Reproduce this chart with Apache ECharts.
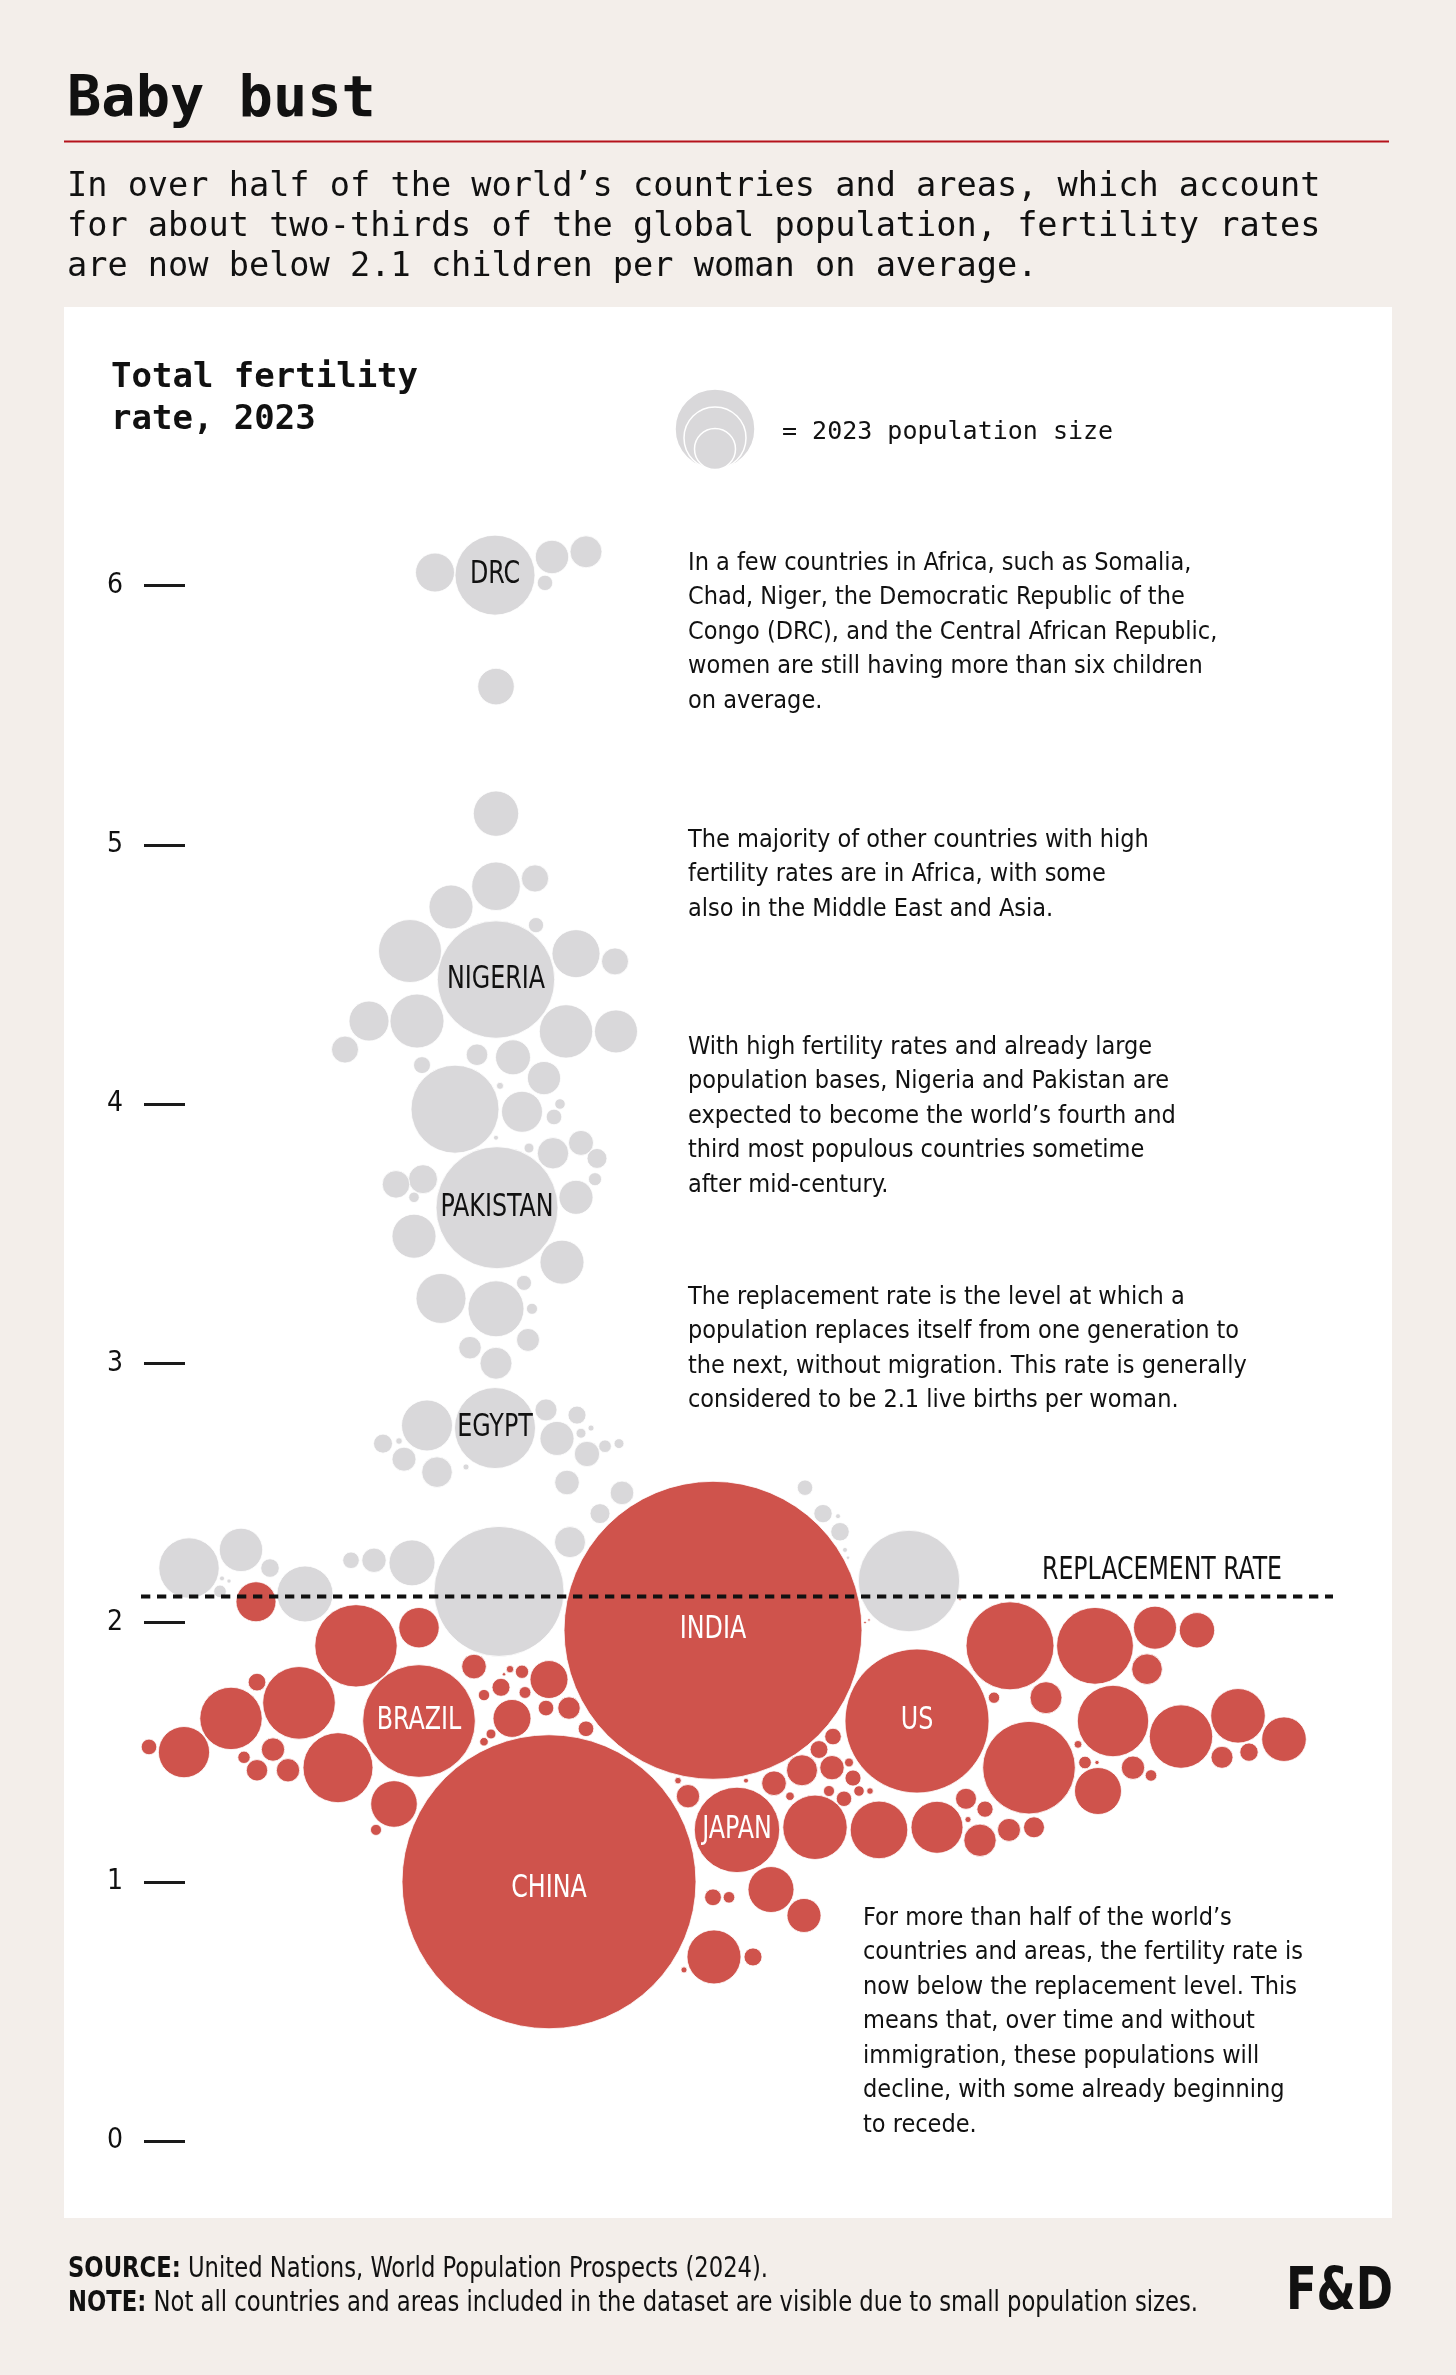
<!DOCTYPE html>
<html><head><meta charset="utf-8">
<script src="https://cdn.jsdelivr.net/npm/echarts@6/dist/echarts.min.js"></script>
<style>html,body{margin:0;padding:0;background:#f3eeea;}#chart{width:1456px;height:2375px;}</style>
</head><body><div id="chart"></div>
<script>
// ---- DATA ----
// Labeled countries come first (in the order of labelNames), then all other countries and areas.
const labelNames = ['DRC','NIGERIA','PAKISTAN','EGYPT','BRAZIL','CHINA','INDIA','US','JAPAN'];
// Total fertility rate, 2023
const fertilityRate = [
 6.04,4.48,3.60,2.75,1.62,1.00,1.97,1.62,1.20,
 // other, above replacement
 6.05,6.11,6.13,6.01,5.61,5.12,4.84,4.87,4.76,4.69,4.59,4.58,4.55,4.32,4.32,4.28,4.28,4.21,4.19,4.18,4.15,4.10,4.07,
 3.98,3.97,4.00,3.95,3.87,3.83,3.81,3.85,3.79,3.71,3.71,3.69,3.64,3.64,3.49,3.39,3.25,3.21,3.31,3.21,3.09,3.06,3.00,
 2.76,2.82,2.71,2.80,2.75,2.73,2.65,2.68,2.69,2.69,2.70,2.63,2.58,2.60,2.54,2.50,2.42,2.31,2.21,2.28,2.21,2.17,2.16,
 2.12,2.11,2.24,2.24,2.23,2.12,2.52,2.42,2.41,2.35,2.28,2.25,2.16,
 // other, below replacement
 2.08,1.91,1.98,1.83,1.82,1.80,1.81,1.78,1.75,1.72,1.73,1.63,1.67,1.67,1.59,1.57,1.54,1.69,1.77,1.63,1.50,1.52,1.51,
 1.48,1.43,1.43,1.44,1.30,1.20,2.09,2.00,2.01,1.33,1.39,1.39,1.38,1.33,1.43,1.51,1.56,1.44,1.46,1.40,1.35,1.32,1.35,
 1.35,1.21,1.20,1.21,1.32,1.28,1.24,1.16,1.20,1.21,1.91,1.71,1.71,1.44,1.53,1.46,1.46,1.91,1.98,1.97,1.82,1.62,1.56,
 1.64,1.55,1.48,1.50,1.44,1.41,1.35,0.97,0.94,0.94,0.87,0.71,0.71,0.66
];
// 2023 population, millions
const populationM = [
 104.4,224.8,242.7,107.0,206.8,1409.6,1448.0,338.2,118.9,
 24.8,18.2,16.7,3.9,21.8,33.6,38.5,12.1,31.6,3.8,64.7,37.6,11.9,26.1,47.6,46.5,30.2,11.9,7.6,20.0,4.7,18.0,0.8,
 126.3,27.4,1.8,4.0,0.4,1.6,16.1,10.2,6.5,2.8,13.7,12.4,1.8,18.9,31.6,31.6,40.8,51.1,3.7,2.0,8.6,8.3,16.7,
 42.4,7.9,18.9,5.3,0.6,1.6,10.5,2.6,1.6,5.9,0.7,9.4,15.3,0.6,9.9,9.1,6.5,15.7,59.5,30.7,5.6,0.4,0.3,
 2.6,51.1,4.5,9.7,34.5,275.6,3.9,5.5,0.4,5.6,0.4,0.2,167.7,
 26.1,110.7,26.6,9.9,0.9,0.2,2.9,23.5,5.3,2.1,2.3,23.5,4.0,8.2,4.0,1.6,1.2,86.0,5.1,63.5,42.8,4.0,8.9,
 2.5,7.5,8.9,79.9,35.4,2.0,0.1,0.1,0.1,8.9,0.7,0.4,9.9,1.2,15.7,5.2,4.5,9.7,1.3,4.2,2.0,3.9,1.8,
 0.7,67.6,54.1,44.1,7.2,4.3,0.6,17.1,8.6,7.2,126.3,2.1,16.7,139.8,1.0,2.6,0.3,96.2,30.2,20.4,15.3,83.1,65.6,
 48.6,32.4,7.9,5.5,8.9,2.2,36.0,34.5,4.6,2.2,18.9,47.6,5.3,0.6
];
// horizontal position in the packed swarm (offset from the centre column)
const swarmX = [
 0,1,2,0,-76,54,218,422,242,
 -60,57,91,50,1,1,1,40,-44,41,-85,81,120,-126,-78,71,121,-150,-18,18,-73,49,5,
 -40,27,65,59,1,34,58,86,102,100,-72,-99,-81,81,-81,67,-54,1,29,37,33,-25,1,
 -68,51,62,82,96,86,92,110,124,-112,-96,-91,-58,-29,72,127,105,75,-306,-254,-225,-273,-266,
 -275,-190,-144,-121,-83,4,310,328,343,345,350,353,414,
 -239,-139,-76,-21,15,9,27,54,6,-11,30,17,51,74,91,-4,-11,-196,-238,-264,-311,-346,-222,
 -251,-238,-207,-157,-101,-119,465,370,374,193,183,251,279,295,307,324,338,337,354,358,334,349,364,
 375,320,384,442,471,490,473,485,514,539,515,499,551,534,583,590,602,600,660,702,652,618,686,
 743,789,727,754,638,656,603,276,218,234,309,219,258,189
];
const replacementRate = 2.1;

// ---- STYLE ----
const RED = '#cf534c', GRAY = '#d9d8da', INK = '#111111';
const MONO = '"DejaVu Sans Mono", "Liberation Mono", monospace';
const COND = '"DejaVu Sans Condensed", "Liberation Sans Narrow", "Roboto", sans-serif';
const SIZE_K = 7.83; // px of diameter per sqrt(million people)

const above = [], below = [];
for (let i = 0; i < fertilityRate.length; i++) {
  const name = i < labelNames.length ? labelNames[i] : '';
  const item = { name, value: [swarmX[i], fertilityRate[i], populationM[i]] };
  (fertilityRate[i] >= replacementRate ? above : below).push(item);
}

const chart = echarts.init(document.getElementById('chart'), null, { renderer: 'canvas' });

function paragraph(id, text, x, yCenterFirst, lh) {
  return { id, type: 'text', z: 5, style: { text, x, y: yCenterFirst - lh / 2, fill: INK,
    fontFamily: COND, fontSize: 25, lineHeight: lh, textAlign: 'left', textVerticalAlign: 'top' } };
}

const option = {
  animation: false,
  backgroundColor: '#f3eeea',
  textStyle: { fontFamily: COND },
  grid: { left: 0, right: 0, top: 2141 - 6 * 259.25, bottom: 234, containLabel: false, outerBoundsMode: 'none' },
  xAxis: { type: 'value', min: -495, max: 961, show: false, axisLine: { onZero: false } },
  yAxis: {
    type: 'value', min: 0, max: 6, interval: 1, position: 'left', offset: -185,
    axisLine: { show: false, onZero: false },
    axisTick: { show: true, inside: false, length: 41, lineStyle: { color: '#1a1a1a', width: 3 } },
    axisLabel: { margin: 62, fontSize: 28, color: INK, fontFamily: COND },
    splitLine: { show: false }
  },
  series: [
    { type: 'scatter', name: 'above', data: above, clip: false, silent: true, z: 2,
      symbolSize: v => SIZE_K * Math.sqrt(v[2]),
      itemStyle: { color: GRAY, opacity: 1, borderColor: '#ffffff', borderWidth: 0.8 } },
    { type: 'scatter', name: 'below', data: below, clip: false, silent: true, z: 3,
      symbolSize: v => SIZE_K * Math.sqrt(v[2]),
      itemStyle: { color: RED, opacity: 1, borderColor: '#ffffff', borderWidth: 0.8 } },
    { type: 'line', name: 'replacement', z: 10, silent: true, symbol: 'none', clip: false,
      data: [[-354, replacementRate], [838, replacementRate]],
      lineStyle: { color: INK, width: 4, type: [9.3, 6.7] } }
  ],
  graphic: [
    { id: 'panel', type: 'rect', z: -10, shape: { x: 64, y: 307, width: 1328, height: 1911 }, style: { fill: '#ffffff' } },
    { id: 'title', type: 'text', style: { text: 'Baby bust', x: 67, y: 101, fill: INK, fontFamily: MONO, fontWeight: 'bold', fontSize: 57, textVerticalAlign: 'middle' } },
    { id: 'rule', type: 'rect', shape: { x: 64, y: 140.5, width: 1325, height: 2 }, style: { fill: '#b5121b' } },
    { id: 'sub', type: 'text', style: { text: 'In over half of the world’s countries and areas, which account\nfor about two-thirds of the global population, fertility rates\nare now below 2.1 children per woman on average.',
      x: 67, y: 187 - 20.15, fill: INK, fontFamily: MONO, fontSize: 33.6, lineHeight: 40.3, textVerticalAlign: 'top' } },
    { id: 'ytitle', type: 'text', z: 5, style: { text: 'Total fertility\nrate, 2023', x: 111, y: 378.5 - 20.8, fill: INK, fontFamily: MONO, fontWeight: 'bold', fontSize: 34, lineHeight: 41.6, textVerticalAlign: 'top' } },
    { id: 'lg1', type: 'circle', z: 5, shape: { cx: 715, cy: 429, r: 40 }, style: { fill: GRAY, stroke: '#fff', lineWidth: 1.5 } },
    { id: 'lg2', type: 'circle', z: 6, shape: { cx: 715, cy: 438, r: 31 }, style: { fill: GRAY, stroke: '#fff', lineWidth: 1.5 } },
    { id: 'lg3', type: 'circle', z: 7, shape: { cx: 715, cy: 449, r: 20.5 }, style: { fill: GRAY, stroke: '#fff', lineWidth: 1.5 } },
    { id: 'lgt', type: 'text', z: 5, style: { text: '= 2023 population size', x: 782, y: 432, fill: INK, fontFamily: MONO, fontSize: 25, textVerticalAlign: 'middle' } },
    paragraph('p1', 'In a few countries in Africa, such as Somalia,\nChad, Niger, the Democratic Republic of the\nCongo (DRC), and the Central African Republic,\nwomen are still having more than six children\non average.', 688, 563, 34.5),
    paragraph('p2', 'The majority of other countries with high\nfertility rates are in Africa, with some\nalso in the Middle East and Asia.', 688, 840, 34.5),
    paragraph('p3', 'With high fertility rates and already large\npopulation bases, Nigeria and Pakistan are\nexpected to become the world’s fourth and\nthird most populous countries sometime\nafter mid-century.', 688, 1047, 34.5),
    paragraph('p4', 'The replacement rate is the level at which a\npopulation replaces itself from one generation to\nthe next, without migration. This rate is generally\nconsidered to be 2.1 live births per woman.', 688, 1297, 34.5),
    paragraph('p5', 'For more than half of the world’s\ncountries and areas, the fertility rate is\nnow below the replacement level. This\nmeans that, over time and without\nimmigration, these populations will\ndecline, with some already beginning\nto recede.', 863, 1918, 34.5),
    { id: 'rr', type: 'text', z: 12, x: 1282, y: 1571, scaleX: 0.82,
      style: { text: 'REPLACEMENT RATE', x: 0, y: 0, fill: INK, fontFamily: COND, fontSize: 32, textAlign: 'right', textVerticalAlign: 'middle' } },
    { id: 'foot', type: 'text', x: 68, y: 2252, scaleX: 0.87,
      style: { text: '{b|SOURCE:} United Nations, World Population Prospects (2024).\n{b|NOTE:} Not all countries and areas included in the dataset are visible due to small population sizes.',
      x: 0, y: 0, fill: INK, fontFamily: COND, fontSize: 29, lineHeight: 34.5, textVerticalAlign: 'top',
      rich: { b: { fontWeight: 'bold', fontFamily: COND, fontSize: 29 } } } },
    { id: 'logo', type: 'text', x: 1393, y: 2294, scaleX: 0.86,
      style: { text: 'F&D', x: 0, y: 0, fill: INK, fontFamily: COND, fontWeight: 'bold', fontSize: 58, textAlign: 'right', textVerticalAlign: 'middle' } }
  ]
};
chart.setOption(option);

// Country name labels, positioned through the chart's own scales
const labelGraphics = labelNames.map((name, i) => {
  const p = chart.convertToPixel({ gridIndex: 0 }, [swarmX[i], fertilityRate[i]]);
  return { id: 'lbl' + i, type: 'text', z: 20, x: p[0], y: p[1] + (name === 'CHINA' ? 7 : 0), scaleX: 0.84,
    style: { text: name, x: 0, y: 0, textAlign: 'center', textVerticalAlign: 'middle', fontFamily: COND, fontSize: 31.5,
      fill: fertilityRate[i] >= replacementRate ? INK : '#ffffff' } };
});
chart.setOption({ graphic: labelGraphics });
</script>
</body></html>
